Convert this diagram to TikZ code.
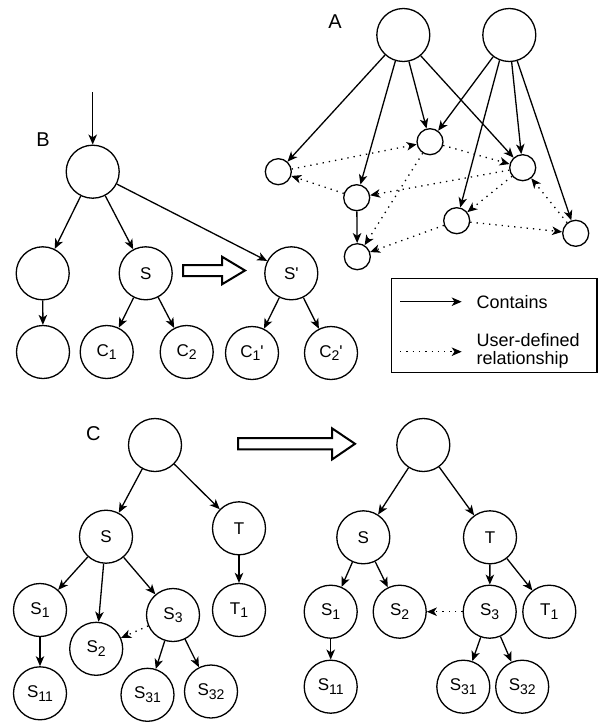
\documentclass[tikz,border=0pt]{standalone}
\usepackage{fontspec}
\setmainfont{Liberation Sans}[Ligatures=TeXOff]
\usetikzlibrary{arrows.meta}
% lowered index digits, as in S_1
\newcommand{\idx}[1]{\raisebox{-3.7pt}{\fontsize{14}{14}\selectfont #1}}
\begin{document}
\begin{tikzpicture}[x=1pt,y=-1pt,
  big/.style={circle,draw,line width=1.3pt,minimum size=53pt,inner sep=0pt,
    font=\fontsize{17}{20}\selectfont},
  small/.style={circle,draw,line width=1.3pt,minimum size=26pt,inner sep=0pt},
  tag/.style={font=\fontsize{20}{24}\selectfont,inner sep=0pt},
  contains/.style={line width=1.3pt,-{Stealth[length=10pt,width=8.5pt,inset=2.8pt]}},
  userrel/.style={line width=1.3pt,dash pattern=on 1.3pt off 5pt,
    -{Stealth[length=10pt,width=8.5pt,inset=2.8pt]}},
  hollow/.style={draw,line width=2pt,line join=miter,fill=white}]
\useasboundingbox (0,0) rectangle (600,728);
\fill[white] (0,0) rectangle (600,728);

% ---------- A: two containers sharing objects ----------
\node[tag] (labA) at (335,22) {A};
\node[big] (t1) at (403.3,35) {};
\node[big] (t2) at (509.3,35) {};
\node[small] (a) at (278.3,171.7) {};
\node[small] (b) at (430,141.7) {};
\node[small] (c) at (522.7,167.7) {};
\node[small] (d) at (356.7,197.7) {};
\node[small] (e) at (456.7,220.7) {};
\node[small] (f) at (575.7,233.3) {};
\node[small] (g) at (357.3,256.7) {};

\draw[contains] (t1) -- (a);
\draw[contains] (t1.253) -- (d);
\draw[contains] (t1.282) -- (b);
\draw[contains] (t1.310) -- (c);
\draw[contains] (t2) -- (b);
\draw[contains] (t2.249) -- (e);
\draw[contains] (t2.275) -- (c);
\draw[contains] (t2.287) -- (f);
\draw[contains] (d) -- (g);

\draw[userrel] (a) -- (b);
\draw[userrel] (d) -- (a);
\draw[userrel] (c) -- (d);
\draw[userrel] (b) -- (c);
\draw[userrel] (b) -- (g);
\draw[userrel] (c) -- (e);
\draw[userrel] (f) -- (c);
\draw[userrel] (e) -- (f);
\draw[userrel] (e) -- (g);

% ---------- B: copying a subtree ----------
\node[tag] (labB) at (43,140) {B};
\coordinate (bin) at (92.7,92);
\node[big] (broot) at (92.7,171.7) {};
\node[big] (bl) at (42.7,273.3) {};
\node[big] (bs) at (145.7,273.3) {S};
\node[big] (bsp) at (291.3,273.3) {S'};
\node[big] (bll) at (43,352) {};
\node[big] (bc1) at (106.7,352) {C\idx{1}};
\node[big] (bc2) at (186.7,352) {C\idx{2}};
\node[big] (bc1p) at (252,353) {C\idx{1}'};
\node[big] (bc2p) at (331,353) {C\idx{2}'};

\draw[contains] (bin) -- (broot);
\draw[contains] (broot) -- (bl);
\draw[contains] (broot) -- (bs);
\draw[contains] (broot) -- (bsp);
\draw[contains] (bl) -- (bll);
\draw[contains] (bs) -- (bc1);
\draw[contains] (bs) -- (bc2);
\draw[contains] (bsp) -- (bc1p);
\draw[contains] (bsp) -- (bc2p);

\draw[hollow] (183,265) -- (222,265) -- (222,256.7) -- (245,270.5)
  -- (222,284.3) -- (222,276) -- (183,276) -- cycle;

% ---------- legend ----------
\draw[line width=1.3pt] (391.7,278.3) rectangle (597,372.5);
\coordinate (k1s) at (400,301.7);
\coordinate (k1e) at (461.7,301.7);
\coordinate (k2s) at (400,351.7);
\coordinate (k2e) at (461.7,351.7);
\draw[contains] (k1s) -- (k1e);
\draw[userrel] (k2s) -- (k2e);
\node[anchor=west,inner sep=0pt,font=\fontsize{18}{18.5}\selectfont] (k1t) at (476.5,301.7) {Contains};
\node[anchor=west,inner sep=0pt,align=left,font=\fontsize{18}{18.5}\selectfont] (k2t) at (476.5,351) {User-defined\\relationship};

% ---------- C: moving a subtree ----------
\node[tag] (labC) at (93.3,433.3) {C};
\node[big] (cr) at (155,445) {};
\node[big] (cs) at (106,536.7) {S};
\node[big] (ct) at (239,528.3) {T};
\node[big] (cs1) at (40,610) {S\idx{1}};
\node[big] (cs2) at (96.2,648.8) {S\idx{2}};
\node[big] (cs3) at (173,615) {S\idx{3}};
\node[big] (ct1) at (239,610) {T\idx{1}};
\node[big] (cs11) at (40,693.3) {S\idx{11}};
\node[big] (cs31) at (147.5,694.8) {S\idx{31}};
\node[big] (cs32) at (211,691.5) {S\idx{32}};

\draw[contains] (cr) -- (cs);
\draw[contains] (cr) -- (ct);
\draw[contains] (cs) -- (cs1);
\draw[contains] (cs) -- (cs2);
\draw[contains] (cs) -- (cs3);
\draw[contains] (ct) -- (ct1);
\draw[contains] (cs1) -- (cs11);
\draw[contains] (cs3) -- (cs31);
\draw[contains] (cs3) -- (cs32);
\draw[userrel] (cs3) -- (cs2);

\draw[hollow] (238,438) -- (332,438) -- (332,428.3) -- (355,443.8)
  -- (332,459.5) -- (332,449.3) -- (238,449.3) -- cycle;

\node[big] (rr) at (423.3,445) {};
\node[big] (rs) at (363.3,537.3) {S};
\node[big] (rt) at (490,537.3) {T};
\node[big] (rs1) at (330.7,611.7) {S\idx{1}};
\node[big] (rs2) at (399.7,611.7) {S\idx{2}};
\node[big] (rs3) at (489.7,611.7) {S\idx{3}};
\node[big] (rt1) at (549.3,611.7) {T\idx{1}};
\node[big] (rs11) at (330.7,686.7) {S\idx{11}};
\node[big] (rs31) at (463.3,686.7) {S\idx{31}};
\node[big] (rs32) at (522.2,686.7) {S\idx{32}};

\draw[contains] (rr) -- (rs);
\draw[contains] (rr) -- (rt);
\draw[contains] (rs) -- (rs1);
\draw[contains] (rs) -- (rs2);
\draw[contains] (rt) -- (rs3);
\draw[contains] (rt) -- (rt1);
\draw[contains] (rs1) -- (rs11);
\draw[contains] (rs3) -- (rs31);
\draw[contains] (rs3) -- (rs32);
\draw[userrel] (rs3) -- (rs2);
\end{tikzpicture}
\end{document}
